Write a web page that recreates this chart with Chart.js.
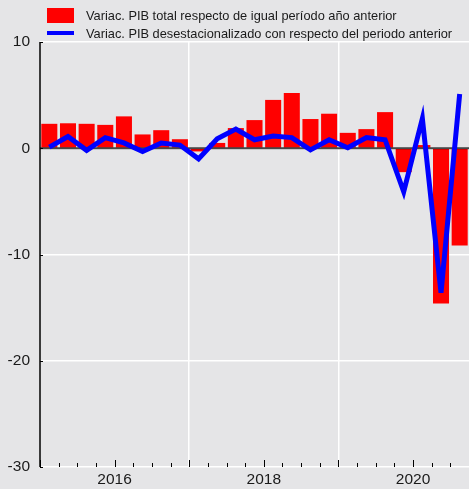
<!DOCTYPE html>
<html lang="es">
<head>
<meta charset="UTF-8">
<title>Variación del PIB</title>
<script src="https://cdn.jsdelivr.net/npm/chart.js"></script>
<style>
    body {
        margin: 0;
        background: #e5e5e7;
        font-family: Arial, "Liberation Sans", sans-serif;
    }
    .wrap {
        position: relative;
        width: 469px;
        height: 489px;
    }
    #chart {
        position: absolute;
        left: 0;
        top: 0;
    }
    .legend {
        position: absolute;
        left: 47px;
        top: 6px;
        font-size: 12.8px;
        color: #1a1a1a;
    }
    .legend .item {
        display: flex;
        align-items: center;
        height: 18px;
    }
    .legend .swatch {
        width: 27px;
        margin-right: 12px;
    }
    .swatch.bar { height: 15px; background: #ff0000; }
    .swatch.line { height: 4px; background: #0000ff; }
</style>
</head>
<body>
<div class="wrap">
    <canvas id="chart" width="469" height="489"></canvas>
    <div class="legend">
        <div class="item"><span class="swatch bar"></span>Variac. PIB total respecto de igual período año anterior</div>
        <div class="item"><span class="swatch line"></span>Variac. PIB desestacionalizado con respecto del periodo anterior</div>
    </div>
</div>
<script>
    const quarters = [
        '2015-T1', '2015-T2', '2015-T3', '2015-T4',
        '2016-T1', '2016-T2', '2016-T3', '2016-T4',
        '2017-T1', '2017-T2', '2017-T3', '2017-T4',
        '2018-T1', '2018-T2', '2018-T3', '2018-T4',
        '2019-T1', '2019-T2', '2019-T3', '2019-T4',
        '2020-T1', '2020-T2', '2020-T3'
    ];
    const pibTotal = [2.3, 2.35, 2.3, 2.2, 3.0, 1.3, 1.7, 0.85, -0.3, 0.5, 1.9, 2.65,
                      4.55, 5.2, 2.75, 3.25, 1.45, 1.8, 3.4, -2.25, 0.3, -14.6, -9.15];
    const pibDesest = [0.1, 1.1, -0.2, 1.0, 0.5, -0.3, 0.5, 0.3, -1.0, 0.9, 1.8, 0.8,
                       1.15, 1.0, -0.15, 0.8, 0.05, 1.0, 0.8, -4.1, 2.8, -13.6, 5.1];
    const yearLabels = ['2016', '2018', '2020'];
    const gridYears = [2017, 2019];
    const yTicks = [10, 0, -10, -20, -30];

    // quarter label -> position on a year axis (middle of the quarter)
    function quarterPos(q) {
        const [y, t] = q.split('-T');
        return +y + (+t - 0.5) / 4;
    }
    const xs = quarters.map(quarterPos);

    // inward tick marks + dark zero line over the bars
    const axisMarks = {
        id: 'axisMarks',
        beforeDatasetDraw(chart) {
            chart.ctx.miterLimit = 8;
        },
        afterDatasetDraw(chart, args) {
            if (args.index !== 1) return;
            const { ctx, chartArea, scales } = chart;
            const y0 = scales.y.getPixelForValue(0);
            ctx.save();
            ctx.strokeStyle = 'rgba(0,0,0,0.72)';
            ctx.lineWidth = 2;
            ctx.beginPath();
            ctx.moveTo(chartArea.left, y0);
            ctx.lineTo(chartArea.right, y0);
            ctx.stroke();
            ctx.restore();
        },
        afterDraw(chart) {
            const { ctx, chartArea, scales } = chart;
            ctx.save();
            ctx.strokeStyle = '#000';
            ctx.lineWidth = 1;
            ctx.beginPath();
            scales.x.ticks.forEach(t => {
                const px = Math.round(scales.x.getPixelForValue(t.value)) + 0.5;
                const len = Number.isInteger(t.value) ? 7 : 4;
                ctx.moveTo(px, chartArea.bottom);
                ctx.lineTo(px, chartArea.bottom - len);
            });
            scales.y.ticks.forEach(t => {
                const py = Math.round(scales.y.getPixelForValue(t.value)) + 0.5;
                ctx.moveTo(chartArea.left, py);
                ctx.lineTo(chartArea.left + 3, py);
            });
            ctx.stroke();
            ctx.lineWidth = 1.5;
            ctx.beginPath();
            ctx.moveTo(chartArea.left, chartArea.top);
            ctx.lineTo(chartArea.left, chartArea.bottom);
            ctx.stroke();
            ctx.restore();
        }
    };

    Chart.defaults.font.family = 'Arial, "Liberation Sans", sans-serif';
    Chart.defaults.color = '#1a1a1a';

    new Chart(document.getElementById('chart'), {
        data: {
            datasets: [{
                type: 'line',
                label: 'Variac. PIB desestacionalizado con respecto del periodo anterior',
                data: xs.map((x, i) => ({ x, y: pibDesest[i] })),
                borderColor: '#0000ff',
                borderWidth: 5,
                pointRadius: 0,
                tension: 0
            }, {
                type: 'bar',
                label: 'Variac. PIB total respecto de igual período año anterior',
                data: xs.map((x, i) => ({ x, y: pibTotal[i] })),
                backgroundColor: '#ff0000',
                borderWidth: 0,
                categoryPercentage: 1,
                barPercentage: 0.86
            }]
        },
        options: {
            responsive: false,
            animation: false,
            layout: { padding: { top: 42, right: 0, left: 0, bottom: 0 } },
            plugins: {
                legend: { display: false },
                tooltip: { enabled: false }
            },
            scales: {
                x: {
                    type: 'linear',
                    min: 2015,
                    max: 2020.75,
                    offset: false,
                    afterFit: s => { s.height = 22; s.paddingLeft = 0; s.paddingRight = 0; },
                    border: { display: false },
                    grid: {
                        offset: false,
                        drawTicks: false,
                        color: c => (c.tick && gridYears.includes(c.tick.value)) ? '#ffffff' : 'rgba(0,0,0,0)',
                        lineWidth: 1.5
                    },
                    ticks: {
                        stepSize: 0.25,
                        maxTicksLimit: 100,
                        autoSkip: false,
                        maxRotation: 0,
                        padding: 3,
                        font: { size: 15.5 },
                        callback: v => yearLabels.includes(String(v)) ? String(v) : ''
                    }
                },
                y: {
                    min: -30,
                    max: 10,
                    afterFit: s => { s.width = 40; s.paddingTop = 0; s.paddingBottom = 0; },
                    border: { display: false },
                    grid: {
                        drawTicks: false,
                        color: '#ffffff',
                        lineWidth: 1.5
                    },
                    ticks: {
                        stepSize: 10,
                        padding: 10,
                        font: { size: 15.5 },
                        callback: v => yTicks.includes(v) ? String(v) : ''
                    }
                }
            }
        },
        plugins: [axisMarks]
    });
</script>
</body>
</html>
